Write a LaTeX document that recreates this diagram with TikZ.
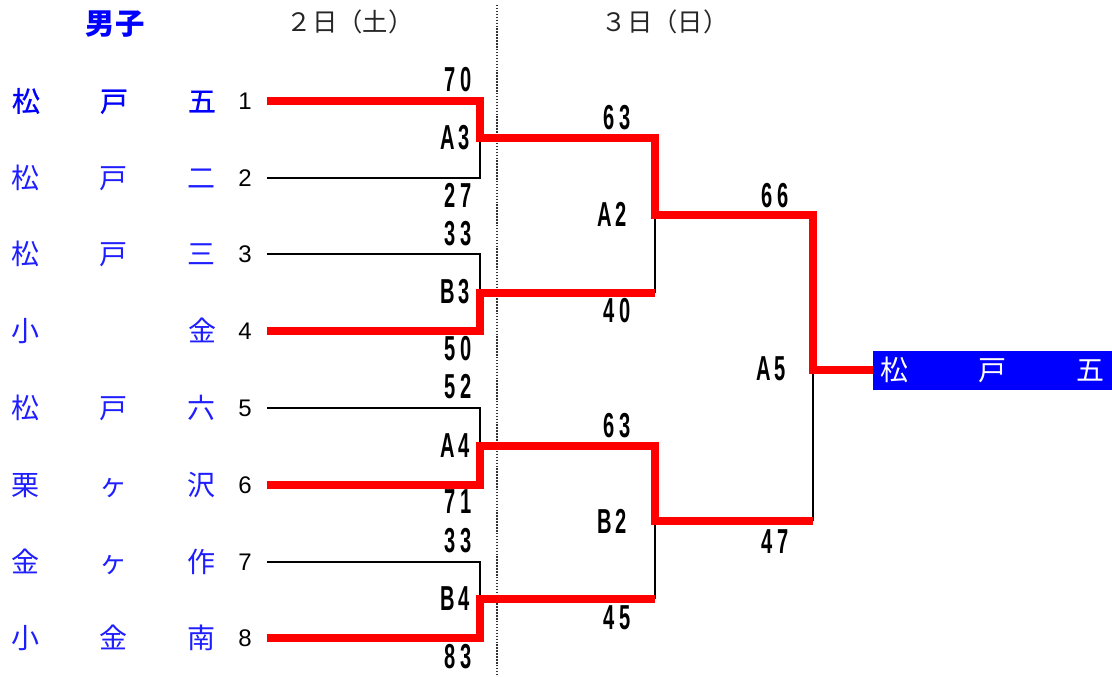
\documentclass[tikz,border=0pt]{standalone}
\usepackage{fontspec}
\setmainfont{Liberation Sans}
\newfontfamily\jpfont{Noto Sans CJK JP}
\newfontfamily\jpmed[FakeBold=0.8]{Noto Sans CJK JP}
\newfontfamily\scorefont[FakeStretch=0.58,LetterSpace=12]{Liberation Sans}
\definecolor{nameblue}{RGB}{30,30,255}
\definecolor{winred}{RGB}{255,0,0}
\definecolor{champblue}{RGB}{0,0,255}
\begin{document}
\begin{tikzpicture}[x=0.75pt,y=-0.75pt,
  namestyle/.style={font=\jpfont\fontsize{21pt}{24pt}\selectfont, text=nameblue, inner sep=0pt},
  numstyle/.style={font=\fontsize{18pt}{20pt}\selectfont, inner sep=0pt},
  scorestyle/.style={font=\scorefont\bfseries\fontsize{26pt}{28pt}\selectfont, inner sep=0pt},
  headstyle/.style={font=\jpfont\fontsize{19pt}{22pt}\selectfont, inner sep=0pt, text=black!85},
  lose/.style={line width=1.9pt, black},
  win/.style={line width=5.3pt, winred, line join=miter},
  dotline/.style={line width=1.5pt, black!80, dash pattern=on 1.1pt off 1.1pt}
]
\useasboundingbox (0,0) rectangle (1112,677);

% headers
\node[font=\jpfont\bfseries\fontsize{22pt}{25pt}\selectfont, text=champblue, inner sep=0pt] (hboys) at (115,24) {男子};
\node[headstyle] (hday2) at (350,22) {２日（土）};
\node[headstyle] (hday3) at (665,22) {３日（日）};

% divider
\draw[dotline] (497,5) -- (497,677);

% team names
\node[namestyle, font=\jpmed\fontsize{21pt}{24pt}\selectfont, text=champblue] (n1) at (114,101) {\makebox[153pt]{松\hfill 戸\hfill 五}};
\node[namestyle] (n2) at (114,178) {\makebox[153pt]{松\hfill 戸\hfill 二}};
\node[namestyle] (n3) at (114,254) {\makebox[153pt]{松\hfill 戸\hfill 三}};
\node[namestyle] (n4) at (114,331) {\makebox[153pt]{小\hfill 金}};
\node[namestyle] (n5) at (114,408) {\makebox[153pt]{松\hfill 戸\hfill 六}};
\node[namestyle] (n6) at (114,485) {\makebox[153pt]{栗\hfill ヶ\hfill 沢}};
\node[namestyle] (n7) at (114,562) {\makebox[153pt]{金\hfill ヶ\hfill 作}};
\node[namestyle] (n8) at (114,638) {\makebox[153pt]{小\hfill 金\hfill 南}};

% seed numbers
\node[numstyle] (k1) at (245,101) {1};
\node[numstyle] (k2) at (245,178) {2};
\node[numstyle] (k3) at (245,254) {3};
\node[numstyle] (k4) at (245,331) {4};
\node[numstyle] (k5) at (245,408) {5};
\node[numstyle] (k6) at (245,485) {6};
\node[numstyle] (k7) at (245,562) {7};
\node[numstyle] (k8) at (245,638) {8};

% bracket points
\coordinate (s1) at (267,101);
\coordinate (s2) at (267,178);
\coordinate (s3) at (267,254);
\coordinate (s4) at (267,331);
\coordinate (s5) at (267,408);
\coordinate (s6) at (267,485);
\coordinate (s7) at (267,562);
\coordinate (s8) at (267,638);
\coordinate (m1) at (480,138);
\coordinate (m2) at (480,293);
\coordinate (m3) at (480,446);
\coordinate (m4) at (480,599);
\coordinate (e2) at (655,293);
\coordinate (e4) at (655,599);
\coordinate (q1) at (655,215);
\coordinate (q2) at (655,521);
\coordinate (g) at (813,521);
\coordinate (f) at (813,370);

% champion
\node[fill=champblue, minimum width=179.25pt, minimum height=29.25pt, inner sep=0pt,
      text=white, font=\jpfont\fontsize{21pt}{24pt}\selectfont] (champ) at (992.5,370)
      {\makebox[168pt]{松\hfill 戸\hfill 五}};

% losing lines
\draw[lose] (s2) -| (m1);
\draw[lose] (s3) -| (m2);
\draw[lose] (s5) -| (m3);
\draw[lose] (s7) -| (m4);
\draw[lose] (e2) -- (q1);
\draw[lose] (e4) -- (q2);
\draw[lose] (g) -- (f);

% winning lines
\draw[win] (s1) -| (m1) -| (q1) -| (f) -- (champ.west);
\draw[win] (s4) -| (m2) -- (e2);
\draw[win] (s6) -| (m3) -| (q2) -- (g);
\draw[win] (s8) -| (m4) -- (e4);

% scores and match labels
\node[scorestyle] (p70) at (458,80) {70};
\node[scorestyle] (lA3) at (455,138) {A3};
\node[scorestyle] (p27) at (458,195) {27};
\node[scorestyle] (p33a) at (458,234) {33};
\node[scorestyle] (lB3) at (455,292) {B3};
\node[scorestyle] (p50) at (458,349) {50};
\node[scorestyle] (p52) at (458,387) {52};
\node[scorestyle] (lA4) at (455,446) {A4};
\node[scorestyle] (p71) at (458,502) {71};
\node[scorestyle] (p33b) at (458,541) {33};
\node[scorestyle] (lB4) at (455,599) {B4};
\node[scorestyle] (p83) at (458,657) {83};
\node[scorestyle] (p63a) at (617,118) {63};
\node[scorestyle] (lA2) at (612,214) {A2};
\node[scorestyle] (p40) at (617,311) {40};
\node[scorestyle] (p63b) at (617,426) {63};
\node[scorestyle] (lB2) at (612,521) {B2};
\node[scorestyle] (p45) at (617,618) {45};
\node[scorestyle] (p66) at (775,196) {66};
\node[scorestyle] (lA5) at (771,369) {A5};
\node[scorestyle] (p47) at (775,542) {47};
\end{tikzpicture}
\end{document}
